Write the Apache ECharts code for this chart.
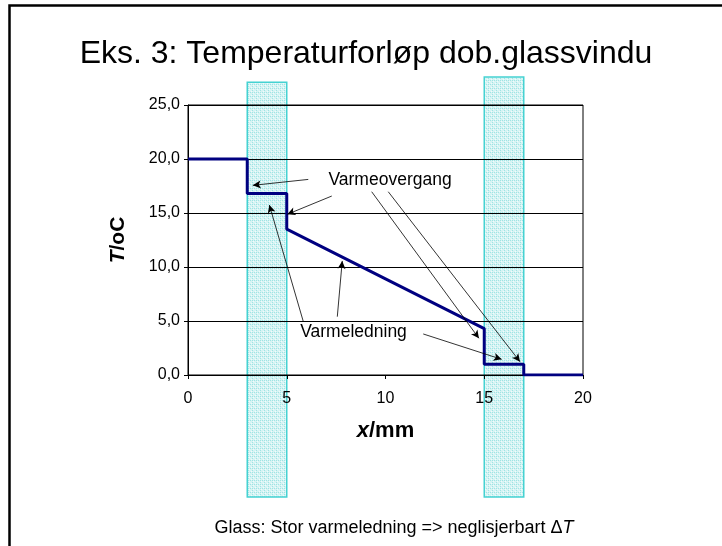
<!DOCTYPE html>
<html>
<head>
<meta charset="utf-8">
<script src="https://cdn.jsdelivr.net/npm/echarts@6/dist/echarts.min.js"></script>
<style>
  html, body { margin: 0; padding: 0; background: #fff; }
  #chart { width: 722px; height: 546px; }
</style>
</head>
<body>
<div id="chart"></div>
<script>
// Temperature profile through a double-glazed window (x in mm, T in °C)
const positionsMm = [0, 3, 3, 5, 5, 15, 15, 17, 17, 20];
const temperatures = [20, 20, 16.8, 16.8, 13.5, 4.3, 1.0, 1.0, 0, 0];

// Glass panes: [x start, x end, lower edge, upper edge] in axis units
const glassPanes = [
  [3, 5, -11.3, 27.1],
  [15, 17, -11.3, 27.6]
];

const xTicks = [0, 5, 10, 15, 20];
const yTicks = [0, 5, 10, 15, 20, 25];

// Callout labels and their arrows (data coordinates)
const labelTexts = ['Varmeovergang', 'Varmeledning'];
const labelAnchors = [[10.23, 18.0], [8.38, 3.95]];
const overgangArrows = [
  [[6.09, 18.11], [3.28, 17.56]],
  [[7.28, 16.57], [5.03, 14.88]],
  [[9.30, 16.97], [14.73, 3.40]],
  [[10.14, 16.97], [16.81, 1.23]]
];
const ledningArrows = [
  [[5.84, 4.94], [4.12, 15.74]],
  [[7.56, 5.40], [7.81, 10.56]],
  [[11.91, 3.80], [15.88, 1.45]]
];

const FONT = '"Liberation Sans", Arial, sans-serif';

// Light cyan dotted fill for the glass panes
function glassPattern() {
  const c = document.createElement('canvas');
  c.width = 4; c.height = 4;
  const g = c.getContext('2d');
  g.fillStyle = '#d6f4f4';
  g.fillRect(0, 0, 4, 4);
  g.fillStyle = '#a0e4e4';
  g.fillRect(0, 0, 1, 1);
  g.fillRect(2, 0, 1, 1);
  g.fillRect(0, 2, 1, 1);
  g.fillStyle = '#f2fbfb';
  g.fillRect(1, 1, 1, 1);
  g.fillRect(3, 3, 1, 1);
  return { image: c, repeat: 'repeat' };
}
const glassFill = glassPattern();

const linePoints = positionsMm.map((x, i) => [x, temperatures[i]]);
const arrowLines = overgangArrows.concat(ledningArrows).map(a => [
  { coord: a[0] }, { coord: a[1] }
]);

const chart = echarts.init(document.getElementById('chart'), null, { renderer: 'canvas' });

chart.setOption({
  backgroundColor: '#ffffff',
  animation: false,
  title: [
    {
      text: 'Eks. 3: Temperaturforløp dob.glassvindu',
      left: 361,
      textAlign: 'center',
      top: 33,
      textStyle: { fontFamily: FONT, fontSize: 32, fontWeight: 'normal', color: '#000' }
    },
    {
      text: 'Glass: Stor varmeledning => neglisjerbart Δ{i|T}',
      left: 389,
      textAlign: 'center',
      top: 514,
      textStyle: {
        fontFamily: FONT, fontSize: 18, fontWeight: 'normal', color: '#000',
        rich: { i: { fontFamily: FONT, fontSize: 18, fontStyle: 'italic', color: '#000' } }
      }
    }
  ],
  graphic: [
    {
      type: 'rect',
      shape: { x: 9.5, y: 5.5, width: 800, height: 700 },
      style: { fill: null, stroke: '#000', lineWidth: 2.5 },
      silent: true
    }
  ],
  grid: {
    left: 188, right: 139, top: 105, bottom: 171,
    show: true, borderColor: '#000', borderWidth: 1, backgroundColor: 'transparent'
  },
  xAxis: {
    type: 'value',
    min: 0, max: 20, interval: 5,
    name: '{i|x}{b|/mm}',
    nameLocation: 'middle',
    nameGap: 45,
    nameTextStyle: {
      rich: {
        i: { fontFamily: FONT, fontSize: 22, fontWeight: 'bold', fontStyle: 'italic', color: '#000' },
        b: { fontFamily: FONT, fontSize: 22, fontWeight: 'bold', color: '#000' }
      }
    },
    axisLine: { show: true, lineStyle: { color: '#000', width: 1 } },
    axisTick: { show: true, length: 4, lineStyle: { color: '#000' } },
    axisLabel: { fontFamily: FONT, fontSize: 16, color: '#000', margin: 16 },
    splitLine: { show: false }
  },
  yAxis: {
    type: 'value',
    min: 0, max: 25, interval: 5,
    name: '{i|T}{b|/oC}',
    nameLocation: 'middle',
    nameRotate: 90,
    nameGap: 59,
    nameTextStyle: {
      rich: {
        i: { fontFamily: FONT, fontSize: 21, fontWeight: 'bold', fontStyle: 'italic', color: '#000' },
        b: { fontFamily: FONT, fontSize: 21, fontWeight: 'bold', color: '#000' }
      }
    },
    axisLine: { show: true, lineStyle: { color: '#000', width: 1 } },
    axisTick: { show: true, length: 4, lineStyle: { color: '#000' } },
    axisLabel: {
      fontFamily: FONT, fontSize: 16, color: '#000', margin: 8,
      formatter: v => v.toFixed(1).replace('.', ',')
    },
    splitLine: { show: true, lineStyle: { color: '#000', width: 1 } }
  },
  series: [
    {
      name: 'glass',
      type: 'custom',
      z: -1,
      clip: false,
      silent: true,
      data: glassPanes,
      renderItem: function (params, api) {
        const topLeft = api.coord([api.value(0), api.value(3)]);
        const bottomRight = api.coord([api.value(1), api.value(2)]);
        return {
          type: 'rect',
          shape: {
            x: topLeft[0], y: topLeft[1],
            width: bottomRight[0] - topLeft[0],
            height: bottomRight[1] - topLeft[1]
          },
          style: { fill: glassFill, stroke: '#45d2d2', lineWidth: 1.5 }
        };
      }
    },
    {
      name: 'T',
      type: 'line',
      z: 3,
      data: linePoints,
      symbol: 'none',
      lineStyle: { color: '#000080', width: 3 },
      markLine: {
        silent: true,
        symbol: ['none', 'arrow'],
        symbolSize: [6, 8],
        label: { show: false },
        lineStyle: { color: '#000', width: 0.8, type: 'solid' },
        data: arrowLines
      }
    },
    {
      name: 'labels',
      type: 'custom',
      z: 4,
      silent: true,
      data: labelTexts.map((t, i) => ({ name: t, value: labelAnchors[i] })),
      renderItem: function (params, api) {
        const p = api.coord([api.value(0), api.value(1)]);
        return {
          type: 'text',
          x: p[0], y: p[1],
          style: {
            text: labelTexts[params.dataIndex],
            fill: '#000',
            font: '17.5px ' + FONT,
            align: 'center',
            verticalAlign: 'middle'
          }
        };
      }
    }
  ]
});
</script>
</body>
</html>
